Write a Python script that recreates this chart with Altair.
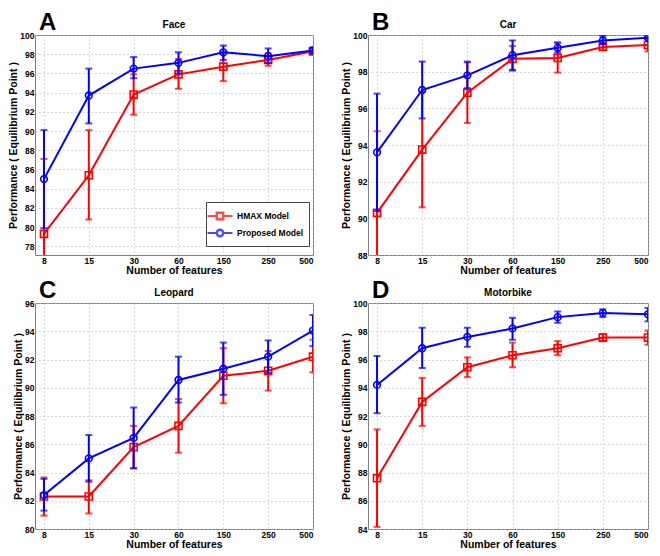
import altair as alt
import pandas as pd

features = ["8", "15", "30", "60", "150", "250", "500"]
series_names = ["HMAX Model", "Proposed Model"]
series_colors = ["#ff0000", "#0000ff"]

# Face
face_hmax = [79.3, 85.4, 93.8, 95.9, 96.7, 97.4, 98.3]
face_hmax_lo = [71.5, 80.8, 91.7, 94.4, 95.2, 96.8, 98.0]
face_hmax_hi = [87.1, 90.1, 95.9, 97.5, 98.2, 98.1, 98.6]
face_prop = [85.0, 93.7, 96.5, 97.1, 98.2, 97.8, 98.4]
face_prop_lo = [79.9, 90.8, 95.5, 96.0, 97.4, 97.1, 98.1]
face_prop_hi = [90.1, 96.5, 97.7, 98.2, 98.9, 98.6, 98.7]

# Car
car_hmax = [90.3, 93.75, 96.85, 98.7, 98.75, 99.35, 99.45]
car_hmax_lo = [85.9, 90.6, 95.2, 98.05, 97.95, 99.2, 99.1]
car_hmax_hi = [94.75, 96.9, 98.5, 99.4, 99.55, 99.5, 99.8]
car_prop = [93.6, 97.0, 97.8, 98.9, 99.3, 99.7, 99.85]
car_prop_lo = [90.4, 95.45, 97.1, 98.1, 99.05, 99.5, 99.8]
car_prop_hi = [96.8, 98.55, 98.55, 99.7, 99.6, 99.95, 99.9]

# Leopard
leo_hmax = [82.3, 82.3, 85.8, 87.3, 90.85, 91.2, 92.2]
leo_hmax_lo = [80.95, 81.1, 84.3, 85.4, 88.9, 89.8, 91.1]
leo_hmax_hi = [83.65, 83.45, 87.3, 89.2, 92.8, 92.6, 93.4]
leo_prop = [82.4, 85.0, 86.45, 90.55, 91.35, 92.2, 94.05]
leo_prop_lo = [81.3, 83.35, 84.3, 88.95, 89.5, 91.05, 92.95]
leo_prop_hi = [83.55, 86.65, 88.6, 92.2, 93.2, 93.35, 95.15]

# Motorbike
moto_hmax = [87.6, 93.0, 95.45, 96.3, 96.8, 97.55, 97.55]
moto_hmax_lo = [84.15, 91.3, 94.75, 95.45, 96.3, 97.3, 97.05]
moto_hmax_hi = [91.05, 94.7, 96.15, 97.2, 97.3, 97.8, 98.05]
moto_prop = [94.2, 96.8, 97.6, 98.2, 99.0, 99.3, 99.2]
moto_prop_lo = [92.2, 95.4, 96.9, 97.4, 98.6, 99.0, 98.7]
moto_prop_hi = [96.25, 98.25, 98.25, 98.95, 99.4, 99.55, 99.65]

FONT = "Liberation Sans"
label_expr = "[" + ",".join("'%s'" % f for f in features) + "][datum.value]"

# legend glyphs: line + hollow marker (ring drawn with opposite winding)
SQ = ("M-1.56,0H-0.44M0.44,0H1.56"
      "M-0.44,-0.44H0.44V0.44H-0.44Z"
      "M-0.36,-0.36V0.36H0.36V-0.36Z")
CI = ("M-1.56,0H-0.44M0.44,0H1.56"
      "M0.44,0A0.44,0.44,0,1,1,-0.44,0A0.44,0.44,0,1,1,0.44,0Z"
      "M0.36,0A0.36,0.36,0,1,0,-0.36,0A0.36,0.36,0,1,0,0.36,0Z")


def make_df(hm, hm_lo, hm_hi, pr, pr_lo, pr_hi):
    rows = []
    for name, v, lo, hi in [(series_names[0], hm, hm_lo, hm_hi), (series_names[1], pr, pr_lo, pr_hi)]:
        for i in range(len(features)):
            rows.append({"idx": i, "series": name, "value": v[i], "lo": lo[i], "hi": hi[i]})
    return pd.DataFrame(rows)


def panel(letter, title, df, ymin, ymax, tick0, w, h, show_legend):
    xs = alt.Scale(domain=[-0.2, 6], nice=False, zero=False)
    ys = alt.Scale(domain=[ymin, ymax], nice=False, zero=False)
    xenc = alt.X("idx:Q", scale=xs, axis=alt.Axis(values=list(range(7)), labelExpr=label_expr,
                                                 title="Number of features"))
    yax = alt.Axis(values=list(range(tick0, ymax + 1, 2)), title="Performance ( Equilibrium Point )")
    cscale = alt.Scale(domain=series_names, range=series_colors)
    base = alt.Chart(df)
    layers = []
    leg = None
    if show_legend:
        leg = alt.Legend(title=None, orient="none", legendX=171, legendY=167,
                         fillColor="white", strokeColor="#444", padding=5,
                         symbolSize=256, symbolStrokeWidth=1.8, labelOffset=8,
                         labelFont=FONT, labelFontSize=8.5, labelFontWeight="bold",
                         labelColor="black", rowPadding=0, cornerRadius=0)
        lg = base.transform_filter("false").mark_point(filled=False, strokeWidth=2).encode(
            x=xenc, y=alt.Y("value:Q", scale=ys, axis=yax),
            color=alt.Color("series:N", scale=cscale, legend=leg),
            shape=alt.Shape("series:N", scale=alt.Scale(domain=series_names, range=[SQ, CI]), legend=leg))
        layers.append(lg)
    for k, name in enumerate(series_names):
        b = base.transform_filter(alt.datum.series == name)
        col = alt.Color("series:N", scale=cscale, legend=leg)
        rule = b.mark_rule(strokeWidth=2, clip=True).encode(
            x=xenc, y=alt.Y("lo:Q", scale=ys, axis=yax), y2="hi:Q", color=col)
        tlo = b.mark_tick(orient="horizontal", size=7, thickness=2, clip=True).encode(
            x=xenc, y=alt.Y("lo:Q", scale=ys, axis=yax), color=col)
        thi = b.mark_tick(orient="horizontal", size=7, thickness=2, clip=True).encode(
            x=xenc, y=alt.Y("hi:Q", scale=ys, axis=yax), color=col)
        line = b.mark_line(strokeWidth=2, clip=True).encode(
            x=xenc, y=alt.Y("value:Q", scale=ys, axis=yax), color=col)
        pt = b.mark_point(shape="square" if k == 0 else "circle", filled=False,
                          size=50 if k == 0 else 45, strokeWidth=1.6, opacity=1, clip=True).encode(
            x=xenc, y=alt.Y("value:Q", scale=ys, axis=yax), color=col)
        layers += [rule, tlo, thi, line, pt]
    lab = alt.Chart(pd.DataFrame({"t": [letter]})).mark_text(
        align="left", baseline="alphabetic", fontSize=24, fontWeight="bold", font=FONT, color="black"
    ).encode(text="t:N", x=alt.value(4), y=alt.value(-5))
    ttl = alt.Chart(pd.DataFrame({"t": [title]})).mark_text(
        align="center", baseline="alphabetic", fontSize=10, fontWeight="bold", font=FONT, color="black"
    ).encode(text="t:N", x=alt.value(w / 2), y=alt.value(-7))
    layers += [lab, ttl]
    return alt.layer(*layers).properties(width=w, height=h)


dA = make_df(face_hmax, face_hmax_lo, face_hmax_hi, face_prop, face_prop_lo, face_prop_hi)
dB = make_df(car_hmax, car_hmax_lo, car_hmax_hi, car_prop, car_prop_lo, car_prop_hi)
dC = make_df(leo_hmax, leo_hmax_lo, leo_hmax_hi, leo_prop, leo_prop_lo, leo_prop_hi)
dD = make_df(moto_hmax, moto_hmax_lo, moto_hmax_hi, moto_prop, moto_prop_lo, moto_prop_hi)

pA = panel("A", "Face", dA, 77.1, 100, 78, 278, 220, True)
pB = panel("B", "Car", dB, 88, 100, 88, 280, 220, False)
pC = panel("C", "Leopard", dC, 80, 96, 80, 278, 226, False)
pD = panel("D", "Motorbike", dD, 84, 100, 84, 280, 226, False)

chart = alt.concat(pA, pB, pC, pD, columns=2, spacing={"row": 1, "column": 27}).resolve_scale(
    color="independent", shape="independent"
).resolve_legend(color="independent", shape="independent").properties(
    padding={"top": 2, "left": 0, "right": 0, "bottom": 0}, background="white"
).configure_view(
    stroke="#808080", strokeWidth=1
).configure_axis(
    labelFont=FONT, labelFontSize=8.5, labelFontWeight="bold", labelColor="black",
    titleFont=FONT, titleFontSize=10.5, titleFontWeight="bold", titleColor="black",
    grid=True, gridColor="#b0b0b0", gridDash=[1, 3], gridWidth=1,
    domain=False, ticks=False, labelPadding=1, titlePadding=1
)

chart.save("out.html", embed_options={"renderer": "svg", "actions": False})
